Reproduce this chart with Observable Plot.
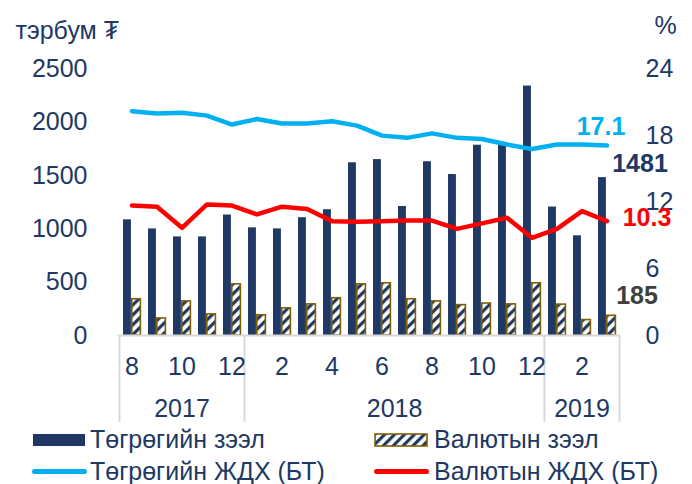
<!DOCTYPE html>
<html>
<head>
<meta charset="utf-8">
<script src="https://cdn.jsdelivr.net/npm/d3@7"></script>
<script src="https://cdn.jsdelivr.net/npm/@observablehq/plot@0.6"></script>
<style>
  html, body { margin: 0; padding: 0; background: #fff; }
  #wrap { width: 692px; height: 484px; position: relative; overflow: hidden; }
  #legend { position: relative; width: 692px; height: 59px; font: 25px "Liberation Sans", Arial, sans-serif; color: #203864; }
  #legend .t { position: absolute; line-height: 30px; white-space: nowrap; }
  #legend .s { position: absolute; }
</style>
</head>
<body>
<div id="wrap">
  <div id="chart"></div>
  <div id="legend"></div>
</div>
<script>
// ---- data ----
const categories = [
  "2017-08","2017-09","2017-10","2017-11","2017-12",
  "2018-01","2018-02","2018-03","2018-04","2018-05","2018-06",
  "2018-07","2018-08","2018-09","2018-10","2018-11","2018-12",
  "2019-01","2019-02","2019-03"
];
const tugrugLoans = [1085,1000,925,925,1130,1010,1000,1105,1180,1620,1650,1210,1630,1510,1785,1800,2340,1205,935,1481];
const fxLoans     = [340,160,320,198,480,190,255,292,350,480,490,340,320,285,300,292,490,290,145,185];
const tugrugRate  = [20.2,20.0,20.05,19.8,19.0,19.5,19.1,19.1,19.3,18.9,18.0,17.8,18.2,17.8,17.7,17.2,16.8,17.2,17.2,17.1];
const fxRate      = [11.7,11.6,9.7,11.8,11.7,10.9,11.6,11.4,10.3,10.25,10.3,10.35,10.35,9.6,10.1,10.6,8.8,9.6,11.2,10.3];
const leftTicks  = [0,500,1000,1500,2000,2500];
const rightTicks = [0,6,12,18,24];
const years = ["2017","2018","2019"];
const seriesNames = ["Төгрөгийн зээл","Валютын зээл","Төгрөгийн ЖДХ (БТ)","Валютын ЖДХ (БТ)"];
const leftUnit = "тэрбум ₮";
const rightUnit = "%";

// ---- layout / styles ----
const W = 692, H = 425;
const mL = 118, mR = 72, mT = 68.5, mB = 90;
const bw = (W - mL - mR) / categories.length;
const leftMax = 2500, rightMax = 24, k = leftMax / rightMax;
const navy = "#203864", blue = "#00B0F0", red = "#FF0000", olive = "#7F6000";

const data = categories.map((c, i) => ({
  cat: c, month: +c.slice(5), year: c.slice(0, 4),
  tug: tugrugLoans[i], fx: fxLoans[i], tr: tugrugRate[i], fr: fxRate[i]
}));
const monthLabels = data.filter(d => d.month % 2 === 0);
const yearLabels = years.map(y => {
  const idx = data.map((d, i) => d.year === y ? i : -1).filter(i => i >= 0);
  const mid = (idx[0] + idx[idx.length - 1]) / 2;
  return { year: y, cat: categories[Math.floor(mid)], off: (mid - Math.floor(mid)) * bw };
});
const groupStarts = years.map(y => data.find(d => d.year === y).cat);
const last = data[data.length - 1];
const txt = { fill: navy, fontSize: 25, lineAnchor: "middle" };

const plot = Plot.plot({
  width: W, height: H,
  marginLeft: mL, marginRight: mR, marginTop: mT, marginBottom: mB,
  style: { fontFamily: "'Liberation Sans', Arial, sans-serif", fontSize: "25px", color: navy, background: "white", overflow: "visible" },
  x: { type: "band", domain: categories, padding: 0, axis: null },
  y: { domain: [0, leftMax], axis: null },
  marks: [
    // left axis
    Plot.axisY(leftTicks, { anchor: "left", tickSize: 0, tickPadding: 31, label: null, fill: navy, fontSize: 25, tickFormat: d => String(d) }),
    // right axis (percent), mapped onto the left scale
    Plot.axisY(rightTicks.map(t => t * k), { anchor: "right", tickSize: 0, tickPadding: 25, label: null, fill: navy, fontSize: 25, textAnchor: "start", tickFormat: d => String(Math.round(d / k)) }),
    // bars
    Plot.barY(data, { x: "cat", y: "tug", fill: navy, insetLeft: 4, insetRight: bw - 12 }),
    Plot.barY(data, { x: "cat", y: "fx", fill: "url(#hatch)", stroke: olive, strokeWidth: 1.6, insetLeft: 12.8, insetRight: 3.6 }),
    // category axis
    Plot.ruleY([0], { stroke: "#d9d9d9", strokeWidth: 2 }),
    Plot.ruleX(groupStarts, { x: d => d, dx: -bw / 2, stroke: "#d9d9d9", strokeWidth: 2, insetTop: H - mT - mB, insetBottom: -87 }),
    Plot.ruleX([last.cat], { x: d => d, dx: bw / 2, stroke: "#d9d9d9", strokeWidth: 2, insetTop: H - mT - mB, insetBottom: -87 }),
    Plot.text(monthLabels, { x: "cat", text: d => String(d.month), frameAnchor: "bottom", dy: 31, ...txt }),
    ...yearLabels.map(yl => Plot.text([yl], { x: "cat", text: "year", dx: yl.off, frameAnchor: "bottom", dy: 73, ...txt })),
    // lines (right axis)
    Plot.line(data, { x: "cat", y: d => d.tr * k, stroke: blue, strokeWidth: 4.5, strokeLinejoin: "round", strokeLinecap: "round" }),
    Plot.line(data, { x: "cat", y: d => d.fr * k, stroke: red, strokeWidth: 4.5, strokeLinejoin: "round", strokeLinecap: "round" }),
    // data labels
    Plot.text([last], { x: "cat", y: d => d.tr * k, text: d => d.tr.toFixed(1), dx: -6, dy: -19, fill: blue, fontWeight: "bold", fontSize: 25 }),
    Plot.text([last], { x: "cat", y: d => d.fr * k, text: d => d.fr.toFixed(1), dx: 40, dy: -3, fill: red, fontWeight: "bold", fontSize: 25 }),
    Plot.text([last], { x: "cat", y: "tug", text: d => String(d.tug), dx: 33, dy: -14, fill: navy, fontWeight: "bold", fontSize: 25 }),
    Plot.text([last], { x: "cat", y: "fx", text: d => String(d.fx), dx: 30, dy: -20, fill: "#404040", fontWeight: "bold", fontSize: 25 }),
    // unit labels
    Plot.text([leftUnit], { text: d => d, frameAnchor: "top-left", textAnchor: "start", dx: 15 - mL, dy: 30 - mT, ...txt }),
    Plot.text([rightUnit], { text: d => d, frameAnchor: "top-right", textAnchor: "middle", dx: 45, dy: 25 - mT, ...txt })
  ]
});

const ns = "http://www.w3.org/2000/svg";
const defs = document.createElementNS(ns, "defs");
defs.innerHTML = `<pattern id="hatch" patternUnits="userSpaceOnUse" width="7" height="7" patternTransform="rotate(45)">
  <rect width="7" height="7" fill="white"/><rect width="3.2" height="7" fill="${navy}"/></pattern>`;
plot.insertBefore(defs, plot.firstChild);
document.getElementById("chart").appendChild(plot);

// ---- legend ----
const lg = document.getElementById("legend");
lg.innerHTML = `
  <div class="s" style="left:33px;top:9px;width:52px;height:12px;background:${navy}"></div>
  <div class="t" style="left:90px;top:-1.5px">${seriesNames[0]}</div>
  <svg class="s" style="left:374px;top:8px" width="54" height="15">
    <defs><pattern id="hatch2" patternUnits="userSpaceOnUse" width="7" height="7" patternTransform="rotate(45)">
      <rect width="7" height="7" fill="white"/><rect width="3.2" height="7" fill="${navy}"/></pattern></defs>
    <rect x="1" y="1" width="52" height="12" fill="url(#hatch2)" stroke="${olive}" stroke-width="1.6"/>
  </svg>
  <div class="t" style="left:434px;top:-1.5px">${seriesNames[1]}</div>
  <div class="s" style="left:32px;top:44px;width:55px;height:5px;border-radius:3px;background:${blue}"></div>
  <div class="t" style="left:90px;top:31px">${seriesNames[2]}</div>
  <div class="s" style="left:374px;top:44px;width:55px;height:5px;border-radius:3px;background:${red}"></div>
  <div class="t" style="left:434px;top:31px">${seriesNames[3]}</div>
`;
</script>
</body>
</html>
